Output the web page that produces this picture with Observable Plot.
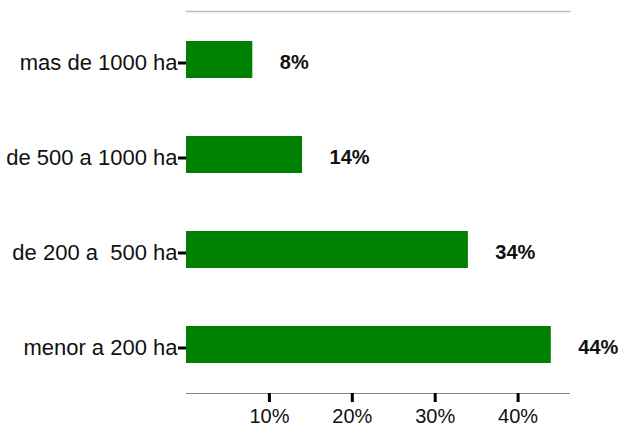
<!DOCTYPE html>
<html>
<head>
<meta charset="utf-8">
<script src="https://cdn.jsdelivr.net/npm/d3@7"></script>
<script src="https://cdn.jsdelivr.net/npm/@observablehq/plot@0.6"></script>
<style>
  html, body { margin: 0; padding: 0; background: #fff; }
  svg text { white-space: pre; }
</style>
</head>
<body>
<div id="chart"></div>
<script>
const categories = ["mas de 1000 ha", "de 500 a 1000 ha", "de 200 a  500 ha", "menor a 200 ha"];
const values = [8, 14, 34, 44];
const xTicks = [10, 20, 30, 40];

const data = categories.map((c, i) => ({cat: c, value: values[i]}));

const chart = Plot.plot({
  width: 625,
  height: 430,
  marginLeft: 186,
  marginRight: 56,
  marginTop: 11,
  marginBottom: 37,
  style: {fontFamily: "'Liberation Sans', Arial, sans-serif", background: "#fff", color: "#111"},
  x: {domain: [0, 46.2]},
  y: {domain: categories, paddingInner: 0.613, paddingOuter: 0.3065},
  marks: [
    Plot.frame({anchor: "top", stroke: "#bdbdbd", strokeWidth: 1.5}),
    Plot.frame({anchor: "bottom", stroke: "#888", strokeWidth: 1}),
    Plot.barX(data, {x: "value", y: "cat", fill: "#008000"}),
    Plot.text(data, {x: "value", y: "cat", text: d => d.value + "%", textAnchor: "start", dx: 27, dy: 3, fontWeight: "bold", fontSize: 20, fill: "#111"}),
    Plot.axisY({tickSize: 8, tickPadding: 1, strokeWidth: 3, stroke: "#000", fontSize: 22, dy: 3, label: null}),
    Plot.axisX({ticks: xTicks, tickFormat: d => d + "%", tickSize: 9, tickPadding: 6, strokeWidth: 3, stroke: "#000", fontSize: 20, label: null})
  ]
});
document.getElementById("chart").appendChild(chart);
</script>
</body>
</html>
